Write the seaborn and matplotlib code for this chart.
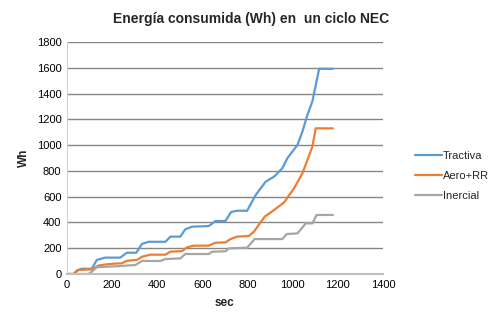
import matplotlib
matplotlib.use("Agg")
import matplotlib.pyplot as plt
import seaborn as sns
import pandas as pd

title = "Energía consumida (Wh) en  un ciclo NEC"
series_names = ["Tractiva", "Aero+RR", "Inercial"]
colors = ["#5b9bd5", "#ed7d31", "#a5a5a5"]

tractiva_t = [0, 30, 43, 65, 110, 132, 169, 236, 265, 307, 332, 361, 436, 458, 502, 524, 554, 628,
              658, 702, 727, 754, 798, 836, 880, 917, 954, 976, 1021, 1043, 1065, 1087, 1117, 1178]
tractiva_w = [0, 0, 26, 41, 41, 109, 127, 127, 165, 165, 233, 250, 250, 290, 290, 347, 367, 372,
              411, 411, 481, 491, 491, 613, 716, 755, 820, 898, 1001, 1105, 1234, 1338, 1592, 1592]

aero_t = [0, 30, 50, 110, 139, 162, 206, 243, 265, 310, 332, 369, 436, 458, 510, 532, 561, 628,
          658, 702, 724, 754, 806, 828, 876, 917, 962, 1006, 1043, 1065, 1087, 1102, 1178]
aero_w = [0, 0, 31, 36, 65, 72, 80, 83, 103, 109, 134, 150, 150, 173, 178, 207, 220, 220,
          243, 245, 271, 290, 295, 328, 445, 496, 556, 665, 781, 884, 988, 1130, 1130]

inercial_t = [0, 95, 110, 132, 236, 303, 332, 413, 436, 502, 524, 628, 643, 702, 717, 798, 831,
              954, 973, 1021, 1058, 1087, 1106, 1178]
inercial_w = [0, 0, 18, 52, 62, 70, 101, 101, 116, 121, 155, 155, 173, 176, 199, 204, 271,
              271, 310, 315, 393, 393, 458, 458]

x_ticks = [0, 200, 400, 600, 800, 1000, 1200, 1400]
y_ticks = [0, 200, 400, 600, 800, 1000, 1200, 1400, 1600, 1800]

frames = []
for name, t, w in zip(series_names, [tractiva_t, aero_t, inercial_t], [tractiva_w, aero_w, inercial_w]):
    frames.append(pd.DataFrame({"sec": t, "Wh": w, "serie": name}))
df = pd.concat(frames, ignore_index=True)

sns.set_style("white")
plt.rcParams['font.family'] = ['Liberation Sans', 'DejaVu Sans']

fig = plt.figure(figsize=(5.02, 3.25), dpi=100)
ax = fig.add_axes([67/502, 1 - 274/325, (383 - 67)/502, (274 - 42)/325])

sns.lineplot(data=df, x="sec", y="Wh", hue="serie", hue_order=series_names,
             palette=colors, linewidth=1.6, estimator=None, sort=False, ax=ax, legend=True)

ax.set_xlim(0, 1400)
ax.set_ylim(0, 1800)
ax.set_xticks(x_ticks)
ax.set_yticks(y_ticks)
ax.tick_params(axis="both", labelsize=8, length=0, pad=4, colors="black")
ax.yaxis.grid(True, color="#868686", linewidth=1.0)
ax.xaxis.grid(False)
ax.set_axisbelow(True)
for s in ["top", "right"]:
    ax.spines[s].set_visible(False)
ax.spines["left"].set_color("#d0d0d0")
ax.spines["bottom"].set_color("#bfbfbf")
ax.spines["bottom"].set_linewidth(1.5)

ax.set_xlabel("sec", fontsize=8.5, fontweight="bold", labelpad=5)
ax.set_ylabel("Wh", fontsize=8.5, fontweight="bold", labelpad=5)
fig.suptitle(title, x=251/502, y=1 - 12/325, fontsize=10, fontweight="bold", va="top")

handles, labels = ax.get_legend_handles_labels()
ax.legend(handles, labels, loc="center left", bbox_to_anchor=(405/502, 1 - 176/325),
          bbox_transform=fig.transFigure, frameon=False, fontsize=8,
          handlelength=2.4, handletextpad=0.1, labelspacing=0.9)

fig.savefig("out.png", dpi=100)
